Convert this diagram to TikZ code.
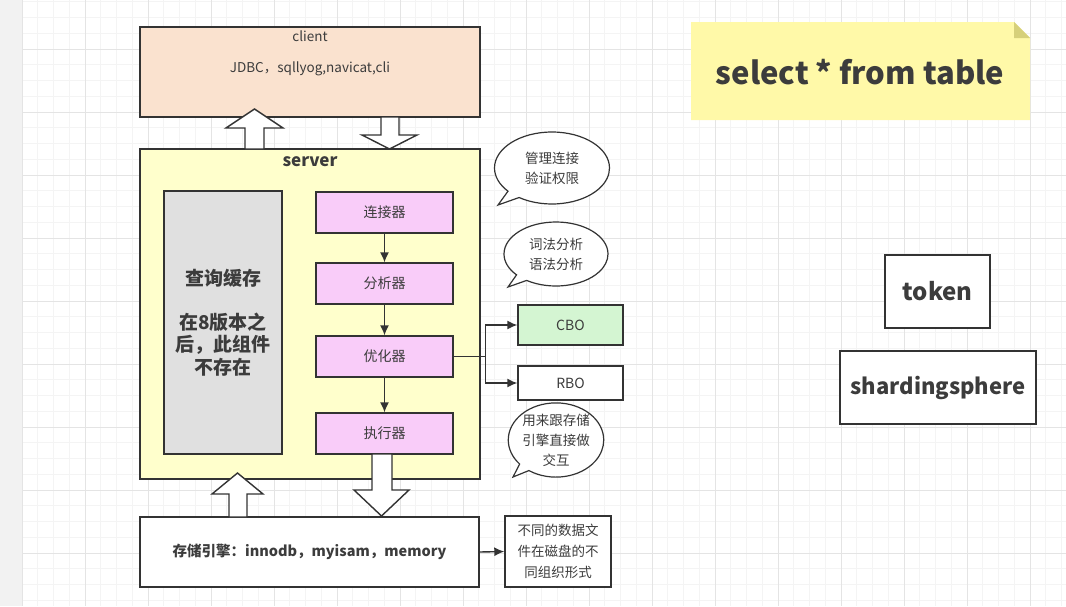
\documentclass[tikz,border=0pt]{standalone}
\usepackage{fontspec}
\setmainfont{Noto Sans CJK SC}
\usetikzlibrary{calc, arrows, arrows.meta, shapes, shapes.callouts, positioning}

\definecolor{linec}{RGB}{51,51,51}
\definecolor{textc}{RGB}{60,60,60}
\definecolor{clientc}{RGB}{250,226,207}
\definecolor{serverc}{RGB}{255,255,204}
\definecolor{cachec}{RGB}{224,224,224}
\definecolor{pinkc}{RGB}{249,204,249}
\definecolor{greenc}{RGB}{212,245,210}
\definecolor{stickyc}{RGB}{255,249,168}
\definecolor{foldc}{RGB}{214,208,122}
\definecolor{gridmin}{RGB}{244,244,244}
\definecolor{gridmaj}{RGB}{228,228,228}

\begin{document}
\begin{tikzpicture}[x=1pt,y=-1pt,
  box/.style={draw=linec, line width=1.4pt, text=textc, inner sep=0pt, align=center},
  comp/.style={box, fill=pinkc, minimum width=137pt, minimum height=41pt, font=\fontsize{14}{16}\selectfont},
  bubble/.style={ellipse callout, draw=linec, line width=1.2pt, fill=white, text=textc, inner sep=0pt, align=center, font=\fontsize{13.5}{20}\selectfont},
  blk/.style={draw=linec, line width=1.4pt, fill=white},
  flow/.style={-{Latex[length=10pt,width=9pt]}, draw=linec, line width=1.4pt},
  big/.style={font=\fontsize{#1}{#1}\selectfont\bfseries, text=textc}]
  \useasboundingbox (0,0) rectangle (1066,606);
  % background grid
  \fill[white] (0,0) rectangle (1066,606);
  \fill[gray!10] (0,0) rectangle (22,606);
  \foreach \i in {0,...,67} \draw[gridmin, line width=.6pt] (22+15.75*\i,0) -- (22+15.75*\i,606);
  \foreach \i in {0,...,38} \draw[gridmin, line width=.6pt] (22,1.75+15.75*\i) -- (1066,1.75+15.75*\i);
  \foreach \i in {0,...,16} \draw[gridmaj, line width=.8pt] (22+63*\i,0) -- (22+63*\i,606);
  \foreach \i in {0,...,9} \draw[gridmaj, line width=.8pt] (22,-14+63*\i) -- (1066,-14+63*\i);

  % client and server
  \node[box, fill=clientc, minimum width=340pt, minimum height=90pt] (client) at (310,72) {};
  \node[text=textc, font=\fontsize{13.5}{16}\selectfont] (clientname) at (310,36) {client};
  \node[text=textc, font=\fontsize{13.5}{16}\selectfont] (clienttools) at (310,69) {JDBC，sqllyog,navicat,cli};
  \node[box, fill=serverc, minimum width=340pt, minimum height=330pt] (server) at (310,314) {};
  \node[big=17] (servername) at (310,162) {server};

  \node[box, fill=cachec, minimum width=118pt, minimum height=263pt, big=19] (cache) at (223,322.5)
    {查询缓存\\[25pt]在8版本之\\[3pt]后，此组件\\[3pt]不存在};

  \node[comp] (conn) at (384.5,212.5) {连接器};
  \node[comp] (parse) at (384.5,283.5) {分析器};
  \node[comp] (opt) at (384.5,356.5) {优化器};
  \node[comp] (exec) at (384.5,433.5) {执行器};
  \draw[flow] (conn) -- (parse);
  \draw[flow] (parse) -- (opt);
  \draw[flow] (opt) -- (exec);

  \node[box, fill=greenc, minimum width=105pt, minimum height=40pt, font=\fontsize{14}{16}\selectfont] (cbo) at (570.5,325) {CBO};
  \node[box, fill=white, minimum width=105pt, minimum height=34pt, font=\fontsize{14}{16}\selectfont] (rbo) at (570.5,383) {RBO};
  \coordinate (split) at ($(opt.east)+(32,0)$);
  \draw[line width=1.4pt, linec] (opt.east) -- (split);
  \draw[flow] (split) |- (cbo.west);
  \draw[flow] (split) |- (rbo.west);

  % speech bubbles
  \node[bubble, minimum width=115pt, minimum height=72pt, callout absolute pointer={(498,205)}] (talk1) at (552,168) {管理连接\\验证权限};
  \node[bubble, minimum width=104pt, minimum height=64pt, callout absolute pointer={(508,287)}] (talk2) at (556,254) {词法分析\\语法分析};
  \node[bubble, minimum width=92pt, minimum height=72pt, callout absolute pointer={(513,477)}] (talk3) at (556,440) {用来跟存储\\引擎直接做\\交互};

  % storage engine
  \node[box, fill=white, minimum width=339pt, minimum height=70pt, big=14.5] (store) at (309.5,552) {存储引擎：innodb，myisam，memory};
  \node[box, fill=white, minimum width=106pt, minimum height=71pt, font=\fontsize{13.5}{21}\selectfont] (files) at (558,551.5) {不同的数据文\\件在磁盘的不\\同组织形式};
  \draw[flow] (store.east) -- (files.west);

  % block arrows
  \draw[blk] (245,149) -- (245,128) -- (226,128) -- (254.5,109) -- (283,128) -- (264,128) -- (264,149) -- cycle;
  \draw[blk] (381,117) -- (381,135) -- (362,135) -- (389.5,149) -- (417,135) -- (399,135) -- (399,117) -- cycle;
  \draw[blk] (372,454) -- (372,490) -- (354,490) -- (381.5,516) -- (409,490) -- (392,490) -- (392,454) -- cycle;
  \draw[blk] (229,517) -- (229,494) -- (212,494) -- (237.5,473) -- (263,494) -- (247,494) -- (247,517) -- cycle;

  % note and side boxes
  \fill[stickyc] (691,22) -- (1014,22) -- (1030,38) -- (1030,120) -- (691,120) -- cycle;
  \fill[foldc] (1014,22) -- (1030,38) -- (1014,38) -- cycle;
  \node[big=31] (query) at (860,72) {select * from table};
  \node[box, fill=white, minimum width=105pt, minimum height=73pt, big=24] (token) at (937.5,291.5) {token};
  \node[box, fill=white, minimum width=196pt, minimum height=73pt, big=22] (sharding) at (938,387.5) {shardingsphere};
\end{tikzpicture}
\end{document}
